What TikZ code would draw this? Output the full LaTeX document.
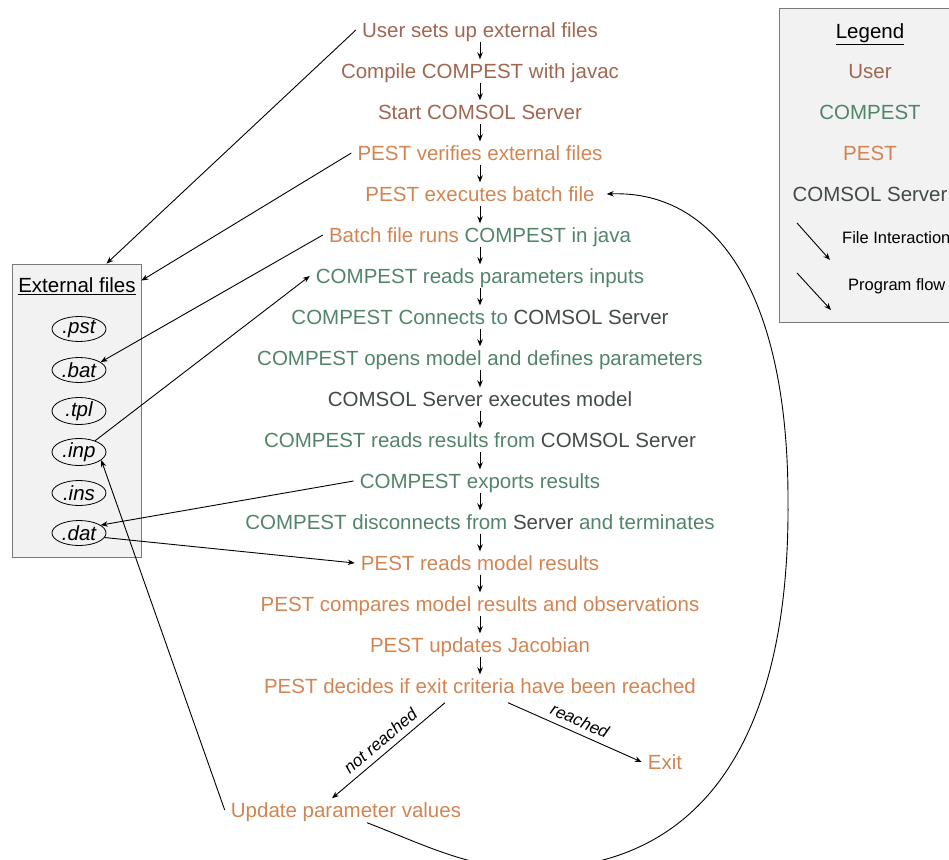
\documentclass[tikz,border=0pt]{standalone}
\usepackage{fontspec}
\setmainfont{Liberation Sans}
\usetikzlibrary{arrows.meta,shapes.geometric}
\definecolor{usercol}{RGB}{160,102,82}
\definecolor{compestcol}{RGB}{82,132,106}
\definecolor{pestcol}{RGB}{210,132,82}
\definecolor{comsolcol}{RGB}{66,74,74}
\begin{document}
\begin{tikzpicture}[x=1pt,y=-1pt,
		txt/.style={font=\fontsize{20.5}{24}\selectfont, text height=18pt, text depth=3pt, inner ysep=1pt, inner xsep=6pt},
		small/.style={font=\fontsize{16.5}{19}\selectfont, inner sep=2pt},
		slopedtxt/.style={font=\itshape\fontsize{17}{19}\selectfont, inner sep=6pt, sloped, above},
		box/.style={draw=gray!95!black, fill=gray!10, line width=0.8pt},
		file/.style={ellipse, draw, line width=0.8pt, minimum width=54pt, minimum height=25pt, inner sep=0pt, font=\itshape\fontsize{20.5}{24}\selectfont},
		flow/.style={-{Stealth[length=7pt,width=5.5pt]}, line width=0.9pt}]
			\clip (0,0) rectangle (949,859);
			% boxes
			\node[box, minimum width=129pt, minimum height=293pt] (ext) at (76.5,410.5) {};
			\node[box, minimum width=190pt, minimum height=314pt, anchor=north west] (legend) at (779,8) {};
			% external files
			\node[txt] (exttitle) at (77,285) {\underline{External files}};
			\node[file] (pst) at (79,329) {.pst};
			\node[file] (bat) at (79,370) {.bat};
			\node[file] (tpl) at (79,411) {.tpl};
			\node[file] (inp) at (79,452) {.inp};
			\node[file] (ins) at (79,493) {.ins};
			\node[file] (dat) at (79,533) {.dat};
			% program steps
			\node[txt, usercol] (s1) at (480,30) {User sets up external files};
			\node[txt, usercol] (s2) at (480,71) {Compile COMPEST with javac};
			\node[txt, usercol] (s3) at (480,112) {Start COMSOL Server};
			\node[txt, pestcol] (s4) at (480,153) {PEST verifies external files};
			\node[txt, pestcol] (s5) at (480,194) {PEST executes batch file};
			\node[txt, pestcol] (s6) at (480,235) {Batch file runs \textcolor{compestcol}{COMPEST in java}};
			\node[txt, compestcol] (s7) at (480,276) {COMPEST reads parameters inputs};
			\node[txt, compestcol] (s8) at (480,317) {COMPEST Connects to \textcolor{comsolcol}{COMSOL Server}};
			\node[txt, compestcol] (s9) at (480,358) {COMPEST opens model and defines parameters};
			\node[txt, comsolcol] (s10) at (480,399) {COMSOL Server executes model};
			\node[txt, compestcol] (s11) at (480,440) {COMPEST reads results from \textcolor{comsolcol}{COMSOL Server}};
			\node[txt, compestcol] (s12) at (480,481) {COMPEST exports results};
			\node[txt, compestcol] (s13) at (480,522) {COMPEST disconnects from \textcolor{comsolcol}{Server} and terminates};
			\node[txt, pestcol] (s14) at (480,563) {PEST reads model results};
			\node[txt, pestcol] (s15) at (480,604) {PEST compares model results and observations};
			\node[txt, pestcol] (s16) at (480,645) {PEST updates Jacobian};
			\node[txt, pestcol] (s17) at (480,686) {PEST decides if exit criteria have been reached};
			\node[txt, pestcol] (exit) at (665,762) {Exit};
			\node[txt, pestcol] (upd) at (346,810) {Update parameter values};
			% program flow
			\draw[flow] (s1) -- (s2);
			\draw[flow] (s2) -- (s3);
			\draw[flow] (s3) -- (s4);
			\draw[flow] (s4) -- (s5);
			\draw[flow] (s5) -- (s6);
			\draw[flow] (s6) -- (s7);
			\draw[flow] (s7) -- (s8);
			\draw[flow] (s8) -- (s9);
			\draw[flow] (s9) -- (s10);
			\draw[flow] (s10) -- (s11);
			\draw[flow] (s11) -- (s12);
			\draw[flow] (s12) -- (s13);
			\draw[flow] (s13) -- (s14);
			\draw[flow] (s14) -- (s15);
			\draw[flow] (s15) -- (s16);
			\draw[flow] (s16) -- (s17);
			\draw[flow] ([xshift=-35pt,yshift=-5pt]s17.south) -- ([xshift=-14pt]upd.north) node[midway, slopedtxt] {not reached};
			\draw[flow] ([xshift=28pt,yshift=-5pt]s17.south) -- (exit.west) node[midway, slopedtxt] {reached};
			\coordinate (low) at (530,869);
			\coordinate (far) at (788,500);
			\draw[flow] ([xshift=21pt,yshift=-1pt]upd.south) .. controls (420,843) and (470,869) .. (low)
				.. controls (715,869) and (790,720) .. (far)
				.. controls (788,300) and (720,190) .. ([xshift=6pt]s5.east);
			% file interaction
			\draw[flow] (s1.west) -- ([xshift=30pt]ext.north);
			\draw[flow] (s4.west) -- ([yshift=-17pt]ext.north east);
			\draw[flow] (s6.west) -- (bat.20);
			\draw[flow] (inp.35) -- (s7.west);
			\draw[flow] (s12.west) -- (dat.20);
			\draw[flow] (dat.-10) -- (s14.west);
			\draw[flow] (upd.west) -- (inp.-20);
			% legend
			\node[txt] (lgtitle) at (870,31) {\underline{Legend}};
			\node[txt, usercol] (lguser) at (870,71) {User};
			\node[txt, compestcol] (lgcompest) at (870,112) {COMPEST};
			\node[txt, pestcol] (lgpest) at (870,153) {PEST};
			\node[txt, comsolcol] (lgcomsol) at (870,194) {COMSOL Server};
			\coordinate (fia) at (797,223);
			\coordinate (fib) at (830,260);
			\coordinate (pfa) at (797,273);
			\coordinate (pfb) at (831,310);
			\draw[flow] (fia) -- (fib);
			\draw[flow] (pfa) -- (pfb);
			\node[small, anchor=west] (lgfile) at (840,238) {File Interaction};
			\node[small, anchor=west] (lgflow) at (846,286) {Program flow};
		\end{tikzpicture}
\end{document}
